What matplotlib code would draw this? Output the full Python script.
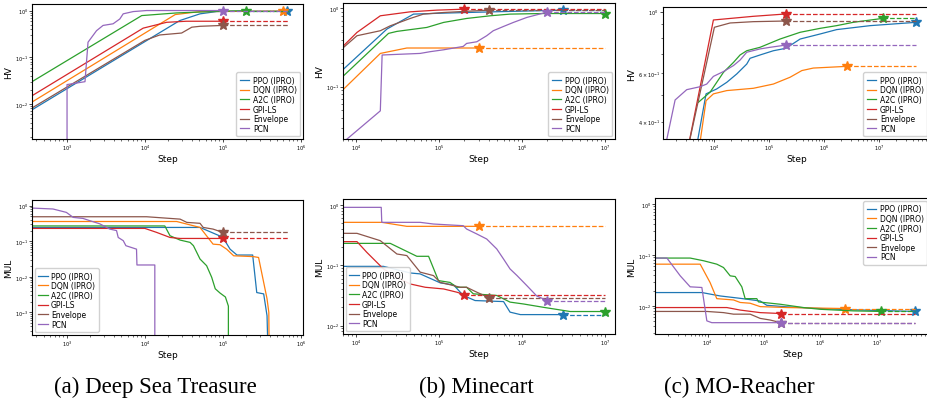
import matplotlib
matplotlib.use("Agg")
import matplotlib.pyplot as plt

# ---- data (steps, values) ----
labels = ["PPO (IPRO)", "DQN (IPRO)", "A2C (IPRO)", "GPI-LS", "Envelope", "PCN"]
colors = ["#1f77b4", "#ff7f0e", "#2ca02c", "#d62728", "#8c564b", "#9467bd"]

# Deep Sea Treasure - HV
dst_hv = {
    "PPO (IPRO)": ([355, 28000, 51000, 83000, 150000, 660000], [0.0075, 0.61, 0.85, 0.95, 0.97, 0.97]),
    "DQN (IPRO)": ([355, 24500, 51000, 590000], [0.011, 0.82, 0.95, 0.97]),
    "A2C (IPRO)": ([355, 9100, 25700, 100000, 200000], [0.030, 0.78, 0.89, 0.97, 0.99]),
    "GPI-LS": ([355, 9500, 19000, 34000, 100000], [0.015, 0.42, 0.56, 0.59, 0.59]),
    "Envelope": ([355, 10000, 15500, 29600, 40000, 51000, 100000], [0.0082, 0.23, 0.30, 0.33, 0.44, 0.46, 0.48]),
    "PCN": ([1000, 1000, 1700, 1860, 2390, 2900, 3900, 4760, 5260, 7070, 10500, 100000],
            [0.001, 0.026, 0.030, 0.21, 0.37, 0.48, 0.52, 0.66, 0.85, 0.95, 1.0, 1.0]),
}
# Deep Sea Treasure - MUL
dst_mul = {
    "PPO (IPRO)": ([355, 51000, 100000, 124000, 152000, 242000, 273000, 335000, 370000, 400000],
                   [0.245, 0.245, 0.13, 0.06, 0.041, 0.041, 0.0036, 0.0033, 0.0008, 1e-6]),
    "DQN (IPRO)": ([355, 25600, 51000, 75000, 92000, 112000, 138000, 247000, 288000, 370000, 390000, 400000],
                   [0.36, 0.36, 0.245, 0.083, 0.08, 0.06, 0.039, 0.037, 0.035, 0.0024, 0.001, 1e-6]),
    "A2C (IPRO)": ([355, 18000, 21000, 28300, 38000, 42000, 51000, 62000, 72000, 80000, 92000, 108000, 118000, 118000],
                   [0.27, 0.27, 0.143, 0.108, 0.093, 0.075, 0.0316, 0.0205, 0.0097, 0.0046, 0.0035, 0.0027, 0.0015, 1e-6]),
    "GPI-LS": ([355, 10000, 14100, 21000, 28300, 100000], [0.23, 0.23, 0.178, 0.128, 0.12, 0.12]),
    "Envelope": ([355, 10500, 28300, 34500, 51000, 56000, 75000, 100000], [0.49, 0.49, 0.42, 0.34, 0.32, 0.245, 0.22, 0.178]),
    "PCN": ([355, 660, 980, 1200, 1600, 1960, 2630, 3540, 4320, 4540, 5270, 5700, 7800, 7900, 13400, 13400],
            [0.86, 0.81, 0.65, 0.47, 0.44, 0.38, 0.31, 0.22, 0.20, 0.128, 0.104, 0.075, 0.06, 0.0215, 0.0215, 1e-6]),
}
# Minecart - HV
mc_hv = {
    "PPO (IPRO)": ([7040, 23400, 49000, 113000, 449000, 3.1e6], [0.168, 0.545, 0.847, 0.872, 0.906, 0.952]),
    "DQN (IPRO)": ([7040, 19500, 40700, 3e5], [0.093, 0.266, 0.312, 0.312]),
    "A2C (IPRO)": ([7040, 24500, 30900, 70900, 113000, 214000, 412000, 715000, 1.8e6, 1e7],
                   [0.138, 0.48, 0.509, 0.572, 0.663, 0.745, 0.806, 0.847, 0.862, 0.862]),
    "GPI-LS": ([7040, 10200, 19500, 44700, 93600, 2e5], [0.334, 0.494, 0.806, 0.906, 0.952, 0.98]),
    "Envelope": ([7040, 10200, 19500, 25700, 44700, 64600, 113000, 4e5],
                 [0.318, 0.448, 0.519, 0.60, 0.745, 0.847, 0.888, 0.952]),
    "PCN": ([6000, 19500, 20500, 58900, 77800, 113000, 195000, 214000, 284000, 374000, 449000, 597000, 785000, 1.14e6, 1.8e6, 2e6],
            [0.017, 0.049, 0.254, 0.266, 0.28, 0.296, 0.327, 0.357, 0.375, 0.448, 0.519, 0.589, 0.663, 0.768, 0.872, 0.906]),
}
# Minecart - MUL
mc_mul = {
    "PPO (IPRO)": ([7040, 21300, 44700, 58900, 103000, 149000, 195000, 271000, 597000, 715000, 952000, 3.1e6],
                   [0.096, 0.096, 0.0746, 0.072, 0.0511, 0.0473, 0.0316, 0.026, 0.025, 0.0167, 0.0152, 0.0152]),
    "DQN (IPRO)": ([7040, 20300, 40700, 3e5], [0.516, 0.516, 0.443, 0.443]),
    "A2C (IPRO)": ([7040, 25700, 53800, 74500, 98000, 135000, 163000, 214000, 258000, 494000, 715000, 1.04e6, 1.8e6, 3.8e6, 1e7],
                   [0.231, 0.231, 0.141, 0.141, 0.0557, 0.052, 0.0432, 0.0432, 0.0336, 0.0316, 0.0245, 0.0228, 0.0201, 0.0171, 0.0171]),
    "GPI-LS": ([7040, 10200, 13400, 21300, 30900, 44700, 67900, 113000, 163000, 2e5],
               [0.247, 0.247, 0.164, 0.087, 0.063, 0.049, 0.0432, 0.0405, 0.0358, 0.0327]),
    "Envelope": ([7040, 10200, 19500, 30900, 40700, 58900, 85300, 103000, 124000, 179000, 214000, 284000, 4e5],
                 [0.339, 0.339, 0.256, 0.154, 0.145, 0.077, 0.0675, 0.052, 0.049, 0.0432, 0.0432, 0.0358, 0.0289]),
    "PCN": ([7040, 20000, 20300, 58900, 85300, 195000, 214000, 284000, 374000, 494000, 597000, 715000, 868000, 1.14e6, 1.5e6, 2e6],
            [0.915, 0.915, 0.516, 0.516, 0.484, 0.454, 0.40, 0.331, 0.273, 0.187, 0.127, 0.087, 0.0675, 0.046, 0.031, 0.026]),
}
# MO-Reacher - HV
mr_hv = {
    "PPO (IPRO)": ([4800, 7050, 11000, 16800, 25500, 38700, 44500, 67600, 118000, 2e5, 362000, 832000, 1.67e6, 6.8e6, 4.7e7],
                   [0.33, 0.504, 0.525, 0.555, 0.595, 0.646, 0.678, 0.697, 0.722, 0.737, 0.796, 0.83, 0.861, 0.89, 0.915]),
    "DQN (IPRO)": ([5400, 7050, 9590, 16800, 51100, 118000, 238000, 389000, 629000, 2.6e6],
                   [0.33, 0.476, 0.504, 0.518, 0.528, 0.547, 0.579, 0.612, 0.625, 0.634]),
    "A2C (IPRO)": ([5120, 8340, 14600, 22200, 29300, 38700, 67600, 156000, 362000, 832000, 1.67e6, 3.36e6, 1.17e7],
                   [0.47, 0.511, 0.603, 0.655, 0.697, 0.722, 0.743, 0.796, 0.842, 0.87, 0.89, 0.915, 0.946]),
    "GPI-LS": ([3300, 9590, 51100, 2e5], [0.32, 0.933, 0.962, 0.981]),
    "Envelope": ([3300, 10000, 19300, 51100, 2e5], [0.32, 0.878, 0.91, 0.92, 0.925]),
    "PCN": ([1300, 1930, 3140, 5490, 7250, 9590, 14600, 22200, 29300, 38700, 67600, 103000, 2e5],
            [0.33, 0.479, 0.522, 0.535, 0.547, 0.583, 0.607, 0.638, 0.668, 0.713, 0.733, 0.743, 0.757]),
}
# MO-Reacher - MUL
mr_mul = {
    "PPO (IPRO)": ([1180, 7940, 16700, 37900, 85500, 112000, 254000, 983000, 3.8e6, 4.7e7],
                   [0.0183, 0.0183, 0.0157, 0.0141, 0.0125, 0.0103, 0.0096, 0.0089, 0.0084, 0.0078]),
    "DQN (IPRO)": ([1180, 7420, 11100, 14600, 28900, 37900, 56900, 85500, 254000, 2.7e6],
                   [0.0659, 0.0659, 0.0288, 0.0139, 0.0131, 0.0117, 0.0113, 0.0097, 0.0093, 0.0089]),
    "A2C (IPRO)": ([1180, 4930, 8500, 14600, 19200, 25200, 30900, 40500, 46400, 74600, 79900, 97900, 193000, 500000, 983000, 3.8e6, 1.2e7],
                   [0.0868, 0.0868, 0.0769, 0.0659, 0.0566, 0.0389, 0.0377, 0.0237, 0.0139, 0.0139, 0.012, 0.0117, 0.0108, 0.0093, 0.0086, 0.008, 0.0078]),
    "GPI-LS": ([1180, 22000, 37900, 85500, 2e5], [0.0093, 0.0093, 0.0083, 0.0074, 0.0071]),
    "Envelope": ([1180, 9730, 19200, 28900, 56900, 85500, 128000, 2e5],
                 [0.0078, 0.0078, 0.0074, 0.0069, 0.0069, 0.0057, 0.0053, 0.0047]),
    "PCN": ([1180, 1910, 3290, 4930, 7940, 9730, 11900, 2e5],
            [0.0868, 0.0868, 0.0389, 0.0237, 0.023, 0.0051, 0.0047, 0.0047]),
}

dash_end = {"dst": 7e5, "mc": 1e7, "mr": 4.7e7}
captions = ["(a) Deep Sea Treasure", "(b) Minecart", "(c) MO-Reacher"]

W, H = 928, 402
fig = plt.figure(figsize=(W / 100, H / 100), dpi=100)


def rect(l, r, t, b):
    return [l / W, 1 - b / H, (r - l) / W, (b - t) / H]


def panel(box, data, end, xlim, ylim, ylabel, legend_loc):
    ax = fig.add_axes(rect(*box))
    for name, c in zip(labels, colors):
        x, y = data[name]
        ax.plot(x, y, color=c, lw=0.9, label=name)
        if y[-1] > ylim[0]:  # star + dashed continuation only if final value is visible
            ax.plot([x[-1], end], [y[-1], y[-1]], "--", color=c, lw=0.9)
            ax.plot(x[-1], y[-1], marker="*", ms=7, color=c, ls="none")
    ax.set_xscale("log")
    ax.set_yscale("log")
    ax.set_xlim(xlim)
    ax.set_ylim(ylim)
    ax.set_xlabel("Step", fontsize=6.5, labelpad=1)
    ax.set_ylabel(ylabel, fontsize=6.5, labelpad=1)
    ax.tick_params(which="major", labelsize=3.5, length=2, width=0.5, pad=1)
    ax.tick_params(which="minor", labelsize=3.5, length=1.2, width=0.4, pad=1)
    for s in ax.spines.values():
        s.set_linewidth(0.8)
    ax.legend(loc=legend_loc, fontsize=5.5, handlelength=1.25, labelspacing=0.08,
              borderpad=0.45, handletextpad=0.45, borderaxespad=0.35, framealpha=0.9)
    return ax


panel((32, 303, 5, 140), dst_hv, dash_end["dst"], (10**2.55, 10**6.03), (10**-2.75, 10**0.14), "HV", "lower right")
panel((32, 303, 200.7, 335.7), dst_mul, dash_end["dst"], (10**2.55, 10**6.03), (10**-3.63, 10**0.17), "MUL", "lower left")
panel((343, 615, 4, 140), mc_hv, dash_end["mc"], (10**3.84, 10**7.12), (10**-1.67, 10**0.07), "HV", "lower right")
panel((343, 615, 200, 335), mc_mul, dash_end["mc"], (10**3.84, 10**7.12), (10**-2.14, 10**0.1), "MUL", "lower left")
panel((662.7, 930, 8.3, 140), mr_hv, dash_end["mr"], (10**3.06, 10**7.92), (0.346, 1.037), "HV", "lower right")
panel((655, 930, 199.3, 335), mr_mul, dash_end["mr"], (10**3.07, 10**7.94), (10**-2.55, 10**0.11), "MUL", "upper right")

for cx, txt in zip([155, 476, 739], captions):
    fig.text(cx / W, 1 - 387 / H, txt, ha="center", va="center", fontsize=16.5,
             family="Liberation Serif")

fig.savefig("out.png", dpi=100)
